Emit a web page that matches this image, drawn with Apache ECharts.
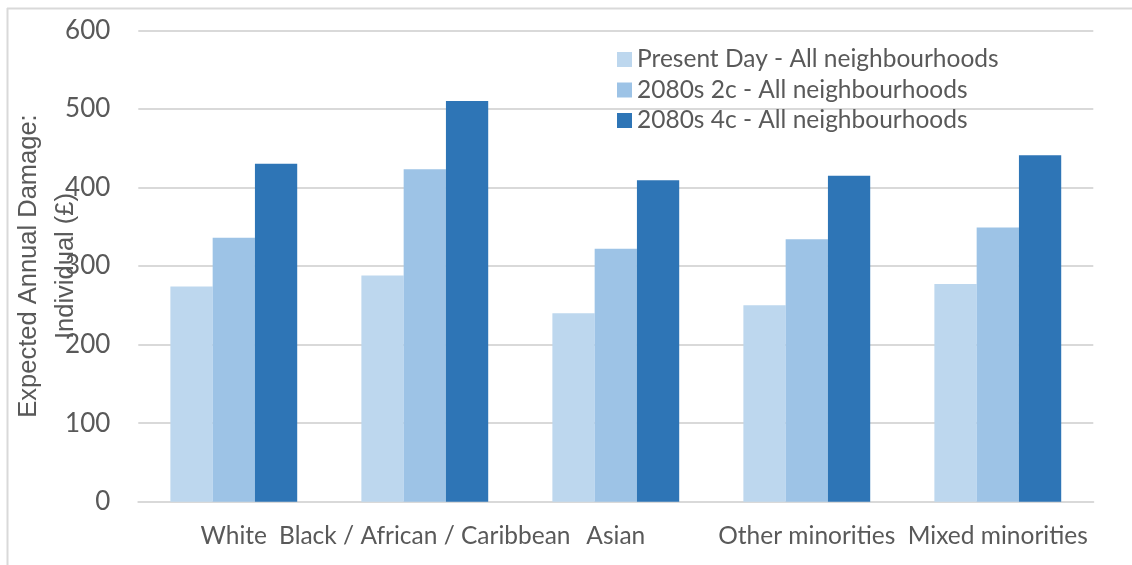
<!DOCTYPE html>
<html>
<head>
<meta charset="utf-8">
<script src="https://cdn.jsdelivr.net/npm/echarts@6/dist/echarts.min.js"></script>
<style>
html,body{margin:0;padding:0;background:#fff;}
#c{width:1132px;height:565px;}
</style>
</head>
<body>
<div id="c"></div>
<script>
const categories = ['White', 'Black / African / Caribbean', 'Asian', 'Other minorities', 'Mixed minorities'];
const seriesNames = ['Present Day - All neighbourhoods', '2080s 2c - All neighbourhoods', '2080s 4c - All neighbourhoods'];
const presentDay = [274, 288, 240, 250, 277];
const c2080s2c = [336, 423, 322, 334, 349];
const c2080s4c = [430, 510, 409, 415, 441];
const yTicks = [0, 100, 200, 300, 400, 500, 600];
const colors = ['#BDD7EE', '#9DC3E6', '#2E75B6'];

const chart = echarts.init(document.getElementById('c'), null, {renderer: 'canvas'});
const labelFont = 'Lato, "Open Sans", sans-serif';
const dataSets = [presentDay, c2080s2c, c2080s4c];
chart.setOption({
  animation: false,
  backgroundColor: '#fff',
  graphic: [
    {type: 'line', shape: {x1: 7.5, y1: 8, x2: 7.5, y2: 565}, style: {stroke: '#d9d9d9', lineWidth: 2}},
    {type: 'line', shape: {x1: 7, y1: 8.5, x2: 1132, y2: 8.5}, style: {stroke: '#d9d9d9', lineWidth: 2}}
  ],
  grid: {left: 138.3, right: 38.7, top: 30.3, bottom: 63.3, containLabel: false, outerBoundsMode: 'none'},
  legend: {
    orient: 'vertical',
    left: 612,
    top: 42,
    itemWidth: 15,
    itemHeight: 15,
    itemGap: 5.5,
    icon: 'rect',
    data: seriesNames,
    textStyle: {color: '#595959', fontSize: 24.5, fontFamily: labelFont, lineHeight: 22, padding: 0}
  },
  xAxis: {
    type: 'category',
    data: categories,
    axisLine: {lineStyle: {color: '#d9d9d9', width: 2}},
    axisTick: {show: false},
    axisLabel: {color: '#595959', fontSize: 24.5, fontFamily: labelFont, margin: 22, interval: 0, hideOverlap: false}
  },
  yAxis: {
    type: 'value',
    min: yTicks[0],
    max: yTicks[yTicks.length - 1],
    interval: 100,
    name: 'Expected Annual Damage:\nIndividual (£)',
    nameLocation: 'middle',
    nameRotate: 90,
    nameGap: 54,
    nameMoveOverlap: false,
    nameTextStyle: {color: '#595959', fontSize: 25.5, fontFamily: '"Liberation Sans", Arial, sans-serif', lineHeight: 37},
    axisLine: {show: false},
    axisTick: {show: false},
    splitLine: {lineStyle: {color: '#d9d9d9', width: 2}},
    axisLabel: {color: '#595959', fontSize: 26, fontFamily: labelFont, margin: 28}
  },
  series: seriesNames.map((n, i) => ({
    name: n,
    type: 'bar',
    data: dataSets[i],
    itemStyle: {color: colors[i]},
    barGap: '0%',
    barCategoryGap: '33.6%'
  }))
});
</script>
</body>
</html>
